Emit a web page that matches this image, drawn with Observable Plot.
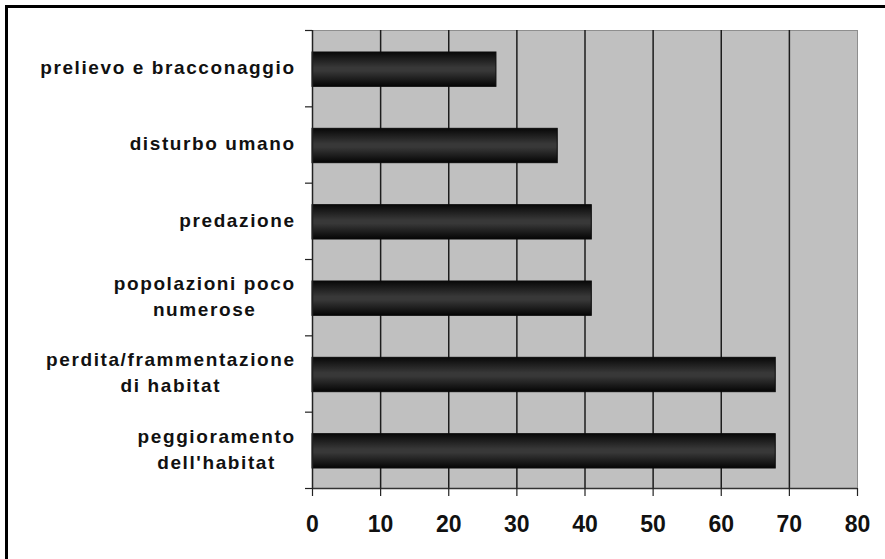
<!DOCTYPE html>
<html>
<head>
<meta charset="utf-8">
<script src="https://cdn.jsdelivr.net/npm/d3@7"></script>
<script src="https://cdn.jsdelivr.net/npm/@observablehq/plot@0.6"></script>
<style>
  html, body { margin: 0; padding: 0; background: #fff; overflow: hidden; width: 885px; height: 559px; }
  #frame { position: absolute; left: 5px; top: 5px; width: 1000px; height: 700px; border: 3px solid #000; box-sizing: border-box; }
  #chart { position: absolute; left: 0; top: 0; }
  #chart svg text { font-family: "Liberation Sans", Arial, sans-serif; }
</style>
</head>
<body>
<div id="frame"></div>
<div id="chart"></div>
<script>
// Threat categories, listed top to bottom, and the share of species affected
const categories = [
  "prelievo e bracconaggio",
  "disturbo umano",
  "predazione",
  "popolazioni poco\nnumerose",
  "perdita/frammentazione\ndi habitat",
  "peggioramento\ndell'habitat"
];
const values = [27, 36, 41, 41, 68, 68];
const xTicks = [0, 10, 20, 30, 40, 50, 60, 70, 80];
const gridLines = [10, 20, 30, 40, 50, 60, 70];

// Each category occupies one unit band on a numeric y scale: [i, i + 1]
const rows = categories.map((label, i) => ({label, value: values[i], top: i, bottom: i + 1, mid: i + 0.5}));
const bandEdges = d3.range(categories.length + 1);
const n = categories.length;
const labelSpacing = 1.6; // px of letter-spacing on category labels

const plot = Plot.plot({
  width: 885,
  height: 559,
  marginLeft: 312,
  marginRight: 28,
  marginTop: 30,
  marginBottom: 71,
  style: {fontFamily: "Liberation Sans, Arial, sans-serif", background: "transparent", overflow: "visible", color: "#111"},
  x: {type: "linear", domain: [0, 80]},
  y: {type: "linear", domain: [0, n], reverse: true},
  marks: [
    Plot.frame({fill: "#c0c0c0", stroke: "#8e8e8e"}),
    Plot.ruleX(gridLines, {x: d => d, y1: 0, y2: n, stroke: "#1c1c1c", strokeWidth: 1.5}),
    Plot.rectX(rows, {
      x: "value", y1: "top", y2: "bottom",
      insetTop: 22, insetBottom: 20,
      fill: "url(#barShade)", stroke: "#0b0b0b", strokeWidth: 1
    }),
    Plot.ruleX([0], {x: d => d, y1: 0, y2: n, stroke: "#222", strokeWidth: 1.5}),
    Plot.ruleY([n], {y: d => d, x1: 0, x2: 80, stroke: "#333", strokeWidth: 1.5}),
    Plot.axisY(bandEdges, {tickSize: 7, tickFormat: () => "", label: null, stroke: "#222", strokeWidth: 1.2}),
    Plot.axisX(xTicks, {tickSize: 8, tickPadding: 19, fontSize: 23, fontWeight: "bold", label: null, stroke: "#222", strokeWidth: 1.2}),
    Plot.text(rows, {
      x: () => 0, y: "mid", text: "label",
      textAnchor: "end", dx: -18.5 + labelSpacing, dy: -3,
      fontSize: 19, fontWeight: "bold", lineHeight: 1.37,
      fill: "#111"
    })
  ]
});

// Vertical shading of the bars: dark edges, lighter centre
const svg = d3.select(plot);
const grad = svg.insert("defs", ":first-child")
  .append("linearGradient")
  .attr("id", "barShade")
  .attr("x1", 0).attr("y1", 0).attr("x2", 0).attr("y2", 1);
grad.append("stop").attr("offset", "0%").attr("stop-color", "#080808");
grad.append("stop").attr("offset", "45%").attr("stop-color", "#383838");
grad.append("stop").attr("offset", "55%").attr("stop-color", "#383838");
grad.append("stop").attr("offset", "100%").attr("stop-color", "#050505");

document.getElementById("chart").append(plot);

// Category labels: widen the tracking, keep each block right-aligned
// and centre the lines of two-line labels within their block
svg.selectAll('g[aria-label="text"] text')
  .style("letter-spacing", `${labelSpacing}px`)
  .each(function () {
    const spans = this.querySelectorAll("tspan");
    if (spans.length < 2) return;
    const w = this.getBBox().width;
    this.setAttribute("text-anchor", "middle");
    spans.forEach(s => s.setAttribute("x", -w / 2));
  });
</script>
</body>
</html>
